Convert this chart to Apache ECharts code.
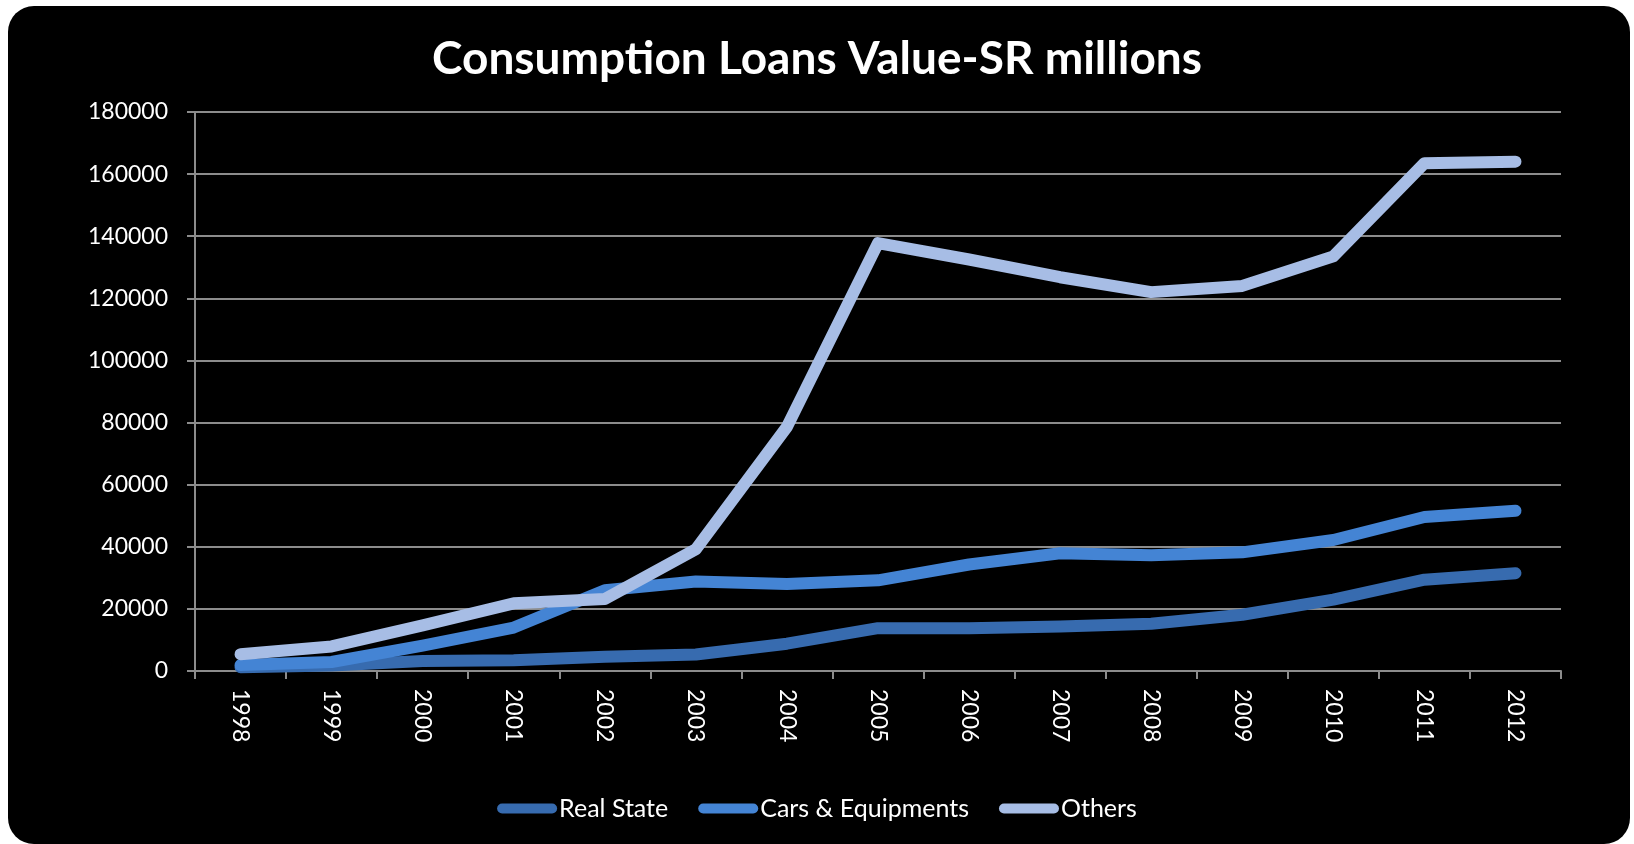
<!DOCTYPE html>
<html>
<head>
<meta charset="utf-8">
<script src="https://cdn.jsdelivr.net/npm/echarts@6/dist/echarts.min.js"></script>
<style>
  html, body { margin: 0; padding: 0; background: #ffffff; width: 1634px; height: 844px; overflow: hidden; }
  #frame { position: absolute; left: 8px; top: 6px; width: 1622px; height: 838px; background: #000; border-radius: 26px; }
  #chart { position: absolute; left: 0; top: 0; width: 1634px; height: 844px; }
</style>
</head>
<body>
<div id="frame"></div>
<div id="chart"></div>
<script>
const years = ['1998','1999','2000','2001','2002','2003','2004','2005','2006','2007','2008','2009','2010','2011','2012'];
const realState = [1200, 1800, 3200, 3500, 4600, 5300, 8800, 13800, 13800, 14300, 15200, 18100, 23000, 29400, 31500];
const carsEquipments = [1900, 2900, 8200, 14000, 26000, 28800, 28000, 29200, 34300, 37900, 37300, 38200, 42200, 49600, 51600];
const others = [5400, 7900, 14700, 21800, 23200, 39200, 78600, 137800, 132500, 126800, 122000, 124000, 133500, 163500, 164000];
const seriesNames = ['Real State', 'Cars & Equipments', 'Others'];
const seriesColors = ['#376BAF', '#4484D4', '#A7BDE5'];

const chart = echarts.init(document.getElementById('chart'), null, { renderer: 'canvas' });
const font = 'Lato, "Open Sans", sans-serif';
const mk = (name, data, color) => ({
  name, type: 'line', data, showSymbol: false, symbol: 'none',
  lineStyle: { color, width: 12, cap: 'round', join: 'round' },
  itemStyle: { color },
  emphasis: { disabled: true }
});
chart.setOption({
  backgroundColor: 'transparent',
  animation: false,
  title: {
    text: 'Consumption Loans Value-SR millions',
    left: 'center', top: 31,
    textStyle: { color: '#fff', fontFamily: font, fontWeight: 'bold', fontSize: 46 }
  },
  legend: {
    data: seriesNames,
    left: 'center', top: 791,
    icon: 'path://M5,0 H55 A5,5 0 0 1 55,10 H5 A5,5 0 0 1 5,0 Z',
    itemWidth: 60, itemHeight: 10, itemGap: 30,
    textStyle: { color: '#fff', fontFamily: font, fontSize: 25, padding: [0, 0, 0, -3] }
  },
  grid: { left: 195, right: 73, top: 112, bottom: 173, containLabel: false },
  xAxis: {
    type: 'category', data: years, boundaryGap: true,
    axisLine: { lineStyle: { color: '#8c8c8c', width: 2 } },
    axisTick: { show: true, length: 8, lineStyle: { color: '#8c8c8c', width: 2 } },
    axisLabel: { color: '#fff', fontFamily: font, fontSize: 23, rotate: -90, margin: 18, interval: 0 },
    splitLine: { show: false }
  },
  yAxis: {
    type: 'value', min: 0, max: 180000, interval: 20000,
    axisLine: { show: true, lineStyle: { color: '#8c8c8c', width: 2 } },
    axisTick: { show: true, length: 8, lineStyle: { color: '#8c8c8c', width: 2 } },
    axisLabel: { color: '#fff', fontFamily: font, fontSize: 23, margin: 27, formatter: v => String(v) },
    splitLine: { show: true, lineStyle: { color: '#8c8c8c', width: 2 } }
  },
  series: [
    mk(seriesNames[0], realState, seriesColors[0]),
    mk(seriesNames[1], carsEquipments, seriesColors[1]),
    mk(seriesNames[2], others, seriesColors[2])
  ]
});
</script>
</body>
</html>
